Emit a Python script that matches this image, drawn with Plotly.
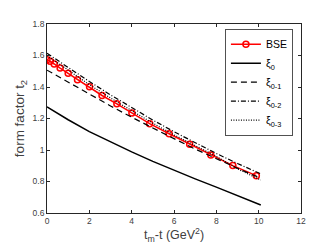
import plotly.graph_objects as go

# BSE data points
bse_x = [0, 0.15, 0.34, 0.62, 1.0, 1.44, 2.01, 2.6, 3.3, 4.01, 4.85, 5.77, 6.74, 7.74, 8.78, 9.89]
bse_y = [1.573, 1.563, 1.546, 1.520, 1.487, 1.446, 1.402, 1.346, 1.293, 1.235, 1.167, 1.103, 1.037, 0.969, 0.901, 0.837]

# fitted curves
curve_x = [0, 1, 2, 3, 4, 5, 6, 7, 8, 9, 10, 10.1]
xi0 = [1.274, 1.192, 1.117, 1.050, 0.988, 0.928, 0.871, 0.817, 0.764, 0.710, 0.656, 0.651]
xi01 = [1.507, 1.430, 1.355, 1.280, 1.208, 1.138, 1.072, 1.006, 0.944, 0.884, 0.826, 0.820]
xi02 = [1.614, 1.522, 1.435, 1.350, 1.268, 1.190, 1.116, 1.045, 0.978, 0.914, 0.855, 0.849]
xi03 = [1.600, 1.505, 1.415, 1.330, 1.248, 1.170, 1.096, 1.026, 0.960, 0.880, 0.815, 0.809]

x_ticks = [0, 2, 4, 6, 8, 10, 12]
y_ticks = [0.6, 0.8, 1.0, 1.2, 1.4, 1.6, 1.8]
y_tick_text = ["0.6", "0.8", "1", "1.2", "1.4", "1.6", "1.8"]

fig = go.Figure()
fig.add_trace(go.Scatter(x=bse_x, y=bse_y, mode="lines+markers", name="BSE",
                         line=dict(color="#ff0000", width=1.5),
                         marker=dict(symbol="circle-open", size=6, color="#ff0000",
                                     line=dict(width=1.5, color="#ff0000"))))
fig.add_trace(go.Scatter(x=curve_x, y=xi0, mode="lines", name="ξ<sub>0</sub>",
                         line=dict(color="black", width=1.5)))
fig.add_trace(go.Scatter(x=curve_x, y=xi01, mode="lines", name="ξ<sub>0-1</sub>",
                         line=dict(color="black", width=1.2, dash="6px,4px")))
fig.add_trace(go.Scatter(x=curve_x, y=xi02, mode="lines", name="ξ<sub>0-2</sub>",
                         line=dict(color="black", width=1.2, dash="5px,2px,1px,2px")))
fig.add_trace(go.Scatter(x=curve_x, y=xi03, mode="lines", name="ξ<sub>0-3</sub>",
                         line=dict(color="black", width=1.2, dash="1px,1.5px")))

axis_common = dict(showline=True, linecolor="#262626", linewidth=0.8, mirror="ticks",
                   ticks="inside", ticklen=3, tickcolor="#262626", showgrid=False,
                   zeroline=False, tickfont=dict(size=8.5, color="#404040"))
fig.update_xaxes(range=[0, 12], tickvals=x_ticks, **axis_common)
fig.update_yaxes(range=[0.6, 1.8], tickvals=y_ticks, ticktext=y_tick_text,
                 title=dict(text="form factor t<sub>2</sub>", font=dict(size=13.5, color="#404040"), standoff=4),
                 **axis_common)
fig.add_annotation(text="t<sub>m</sub>-t (GeV<sup>2</sup>)", xref="paper", yref="paper",
                   x=0.5, y=-0.115, xanchor="center", yanchor="middle", showarrow=False,
                   font=dict(size=12.5, color="#404040"))
# page body adds an 8px offset, so the figure is 8px smaller and margins compensate
fig.update_layout(width=324, height=241, margin=dict(l=35, r=31, t=11, b=36),
                  paper_bgcolor="white", plot_bgcolor="white",
                  font=dict(family="Liberation Sans, Arial, sans-serif"),
                  legend=dict(x=0.969, y=0.974, xanchor="right", yanchor="top",
                              bgcolor="white", bordercolor="#262626", borderwidth=0.8,
                              font=dict(size=10.5, color="black"), itemwidth=30,
                              tracegroupgap=0))
fig.write_html("out.html")
